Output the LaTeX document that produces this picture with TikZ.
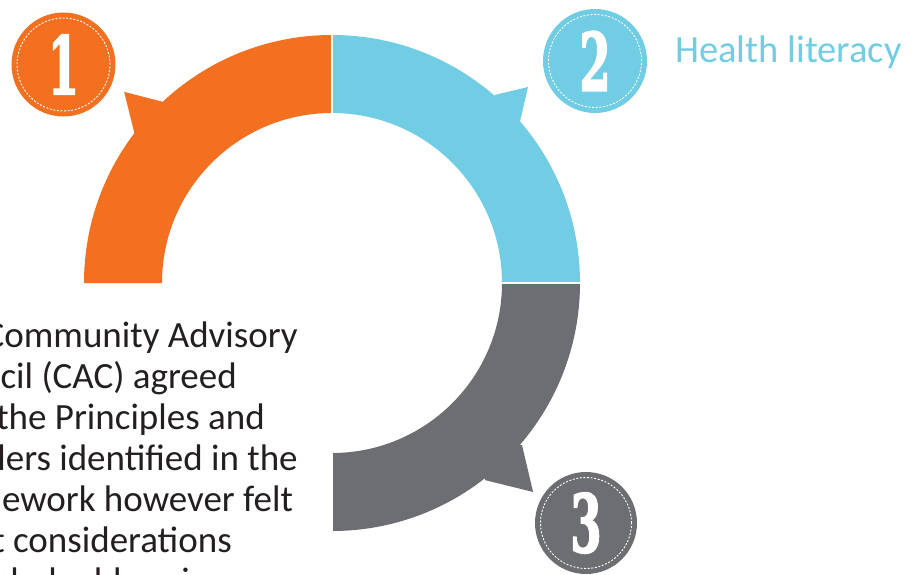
\documentclass[tikz,border=0pt]{standalone}
\usepackage{fontspec}
\setmainfont{Carlito}
\newfontfamily\digitfont{DejaVu Serif Bold}[FakeBold=2.5]

\definecolor{ringorange}{RGB}{243,112,33}
\definecolor{ringblue}{RGB}{113,205,227}
\definecolor{ringgray}{RGB}{109,110,113}
\definecolor{inkdark}{RGB}{35,31,32}

\tikzset{
  badge/.style={circle, minimum size=104pt, inner sep=0pt},
  badgering/.style={white, line width=0.9pt, dash pattern=on 2pt off 1.6pt},
  badgenum/.style={font=\digitfont\fontsize{80}{80}\selectfont,
    text=white, xscale=0.56, inner sep=0pt},
  bodyline/.style={font=\fontsize{37}{41}\selectfont, text=inkdark,
    inner sep=0pt, anchor=base east},
  gapline/.style={white, line width=2pt},
}

\begin{document}
\begin{tikzpicture}[x=1pt, y=1pt]
  \useasboundingbox (-332,-291) rectangle (580,283);
  \clip (-332,-291) rectangle (580,283);

  % ring segments, centred on the origin
  \fill[ringorange] (180:248) arc[start angle=180, end angle=90, radius=248]
    -- (90:170) arc[start angle=90, end angle=180, radius=170] -- cycle;
  \fill[ringorange] (133:247.6) -- (137.4:282.4) -- (142.9:247.6) -- (138:225) -- cycle;

  \fill[ringblue] (90:248) arc[start angle=90, end angle=0, radius=248]
    -- (0:170) arc[start angle=0, end angle=90, radius=170] -- cycle;
  \fill[ringblue] (49.1:248.8) -- (45:277.2) -- (40.6:247.5) -- (45:225) -- cycle;

  \fill[ringgray] (0:248) arc[start angle=0, end angle=-90, radius=248]
    -- (-90:170) arc[start angle=-90, end angle=0, radius=170] -- cycle;
  \fill[ringgray] (-40.45:249.7) -- (-46.1:290) -- (-52.2:249.4) -- (-46:225) -- cycle;

  % thin separations between the segments
  \draw[gapline] (0,160) -- (0,260);
  \draw[gapline] (160,0) -- (260,0);
  \draw[gapline] (0,-160) -- (0,-260);

  % numbered badges
  \node[badge, fill=ringorange] (b1) at (-268.5,218.5) {};
  \draw[badgering] (b1.center) circle[radius=46.5];
  \node[badgenum] (n1) at (b1.center) {1};

  \node[badge, fill=ringblue] (b2) at (263,222) {};
  \draw[badgering] (b2.center) circle[radius=46.5];
  \node[badgenum] (n2) at (b2.center) {2};

  \node[badge, fill=ringgray, minimum size=102pt] (b3) at (254,-240) {};
  \draw[badgering] (b3.center) circle[radius=45.5];
  \node[badgenum] (n3) at (b3.center) {3};

  % label beside badge 2
  \node[font=\fontsize{38.5}{40}\selectfont, text=ringblue, anchor=base west,
    inner sep=0pt] (hl) at (343,221) {Health literacy};

  % body text, each line set against its right end
  \node[bodyline] (t1) at (-34,-64) {The Community Advisory};
  \node[bodyline] (t2) at (-95,-105) {Council (CAC) agreed};
  \node[bodyline] (t3) at (-67,-146) {with the Principles and};
  \node[bodyline] (t4) at (-34,-187) {Enablers identified in the};
  \node[bodyline] (t5) at (-39,-228) {Framework however felt};
  \node[bodyline] (t6) at (-100,-269) {that considerations};
  \node[bodyline, anchor=base west] (t7) at ([yshift=-41pt]t6.base west) {needed addressing};
\end{tikzpicture}
\end{document}
